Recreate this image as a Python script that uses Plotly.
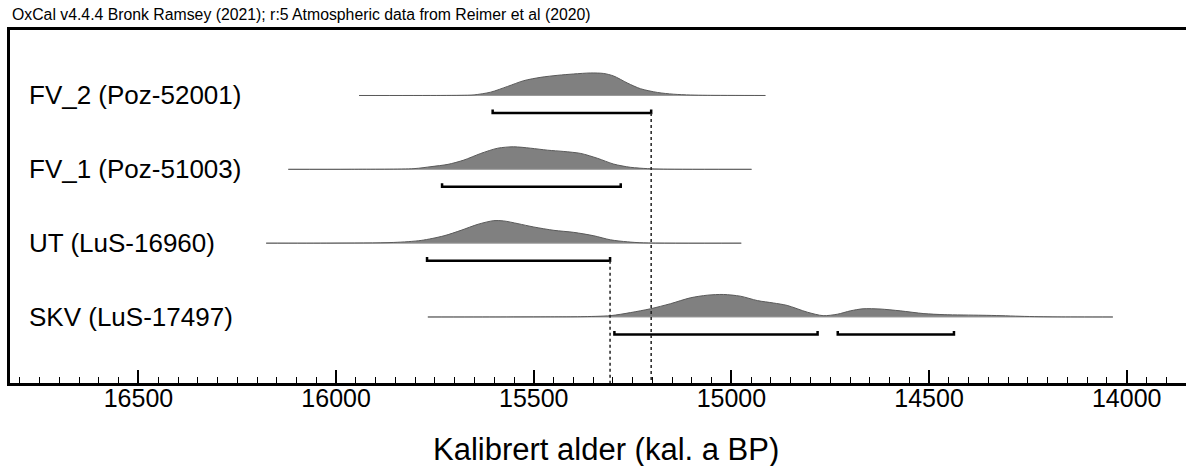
import plotly.graph_objects as go

# ---- data: calibrated age (cal BP) and relative probability per sample ----
labels = ["FV_2 (Poz-52001)", "FV_1 (Poz-51003)", "UT (LuS-16960)", "SKV (LuS-17497)"]

fv2_age = [15942, 15735, 15684, 15651, 15609, 15566, 15525, 15482, 15439, 15399,
           15356, 15323, 15298, 15263, 15230, 15187, 15147, 15104, 15061, 14914]
fv2_prob = [0, 0.05, 0.2, 0.6, 3.3, 9, 14.7, 18, 20, 21.3,
            22.3, 21.8, 19.3, 12.3, 6.7, 3, 1.3, 0.5, 0.2, 0]

fv1_age = [16121, 15962, 15803, 15760, 15717, 15677, 15634, 15591, 15551, 15508,
           15465, 15424, 15381, 15338, 15298, 15255, 15212, 15172, 14949]
fv1_prob = [0, 0.05, 0.7, 2.7, 5, 9.3, 16, 21.3, 22.7, 21.3,
            19.3, 18, 16, 11, 5.3, 2, 0.7, 0.2, 0]

ut_age = [16177, 16013, 15854, 15785, 15727, 15684, 15641, 15601, 15576, 15540,
          15500, 15449, 15399, 15348, 15306, 15263, 15222, 14975]
ut_prob = [0, 0.05, 0.7, 2.7, 7.3, 12.7, 18.7, 22.3, 22, 19.3,
           16, 12.7, 10.7, 7.3, 3.3, 1.3, 0.3, 0]

skv_age = [15768, 15583, 15457, 15381, 15306, 15255, 15205, 15154, 15104, 15061,
           15020, 14977, 14934, 14894, 14859, 14808, 14768, 14732, 14699, 14667,
           14624, 14573, 14513, 14462, 14366, 14318, 14270, 14222, 14174, 14035]
skv_prob = [0, 0.05, 0.15, 0.3, 1.3, 4.3, 8, 13, 18.7, 21.3,
            22, 20.3, 16, 13.7, 11.3, 4.7, 1.3, 2.7, 6, 8,
            7.8, 6, 3.3, 2.3, 1.7, 1.3, 0.7, 0.3, 0.1, 0]

# 95.4 % highest posterior density ranges (cal BP)
fv2_range = [(15604, 15203)]
fv1_range = [(15732, 15280)]
ut_range = [(15770, 15307)]
skv_range = [(15296, 14782), (14731, 14437)]

x_ticks = [16500, 16000, 15500, 15000, 14500, 14000]

# ---- geometry (y in row units; row 0 at the bottom) ----
PEAK_H = 0.305
BRACKET_OFF = 0.237
BRACKET_TICK = 0.048
Y_MIN, Y_MAX = -0.894, 3.887
FONT = "Liberation Sans, Arial, sans-serif"

rows = [
    (labels[0], 3, fv2_age, fv2_prob, fv2_range),
    (labels[1], 2, fv1_age, fv1_prob, fv1_range),
    (labels[2], 1, ut_age, ut_prob, ut_range),
    (labels[3], 0, skv_age, skv_prob, skv_range),
]

fig = go.Figure()

for name, y0, age, prob, rng in rows:
    peak = max(prob)
    # baseline of the distribution
    fig.add_trace(go.Scatter(
        x=[age[0], age[-1]], y=[y0, y0], mode="lines",
        line=dict(color="#9a9a9a", width=1), hoverinfo="skip", showlegend=False))
    # filled probability curve
    fig.add_trace(go.Scatter(
        x=age, y=[y0 + PEAK_H * p / peak for p in prob], mode="lines",
        line=dict(color="#5a5a5a", width=1, shape="spline", smoothing=0.8),
        fill="tonexty", fillcolor="#808080", name=name, showlegend=False))
    # range brackets
    for a, b in rng:
        yb = y0 - BRACKET_OFF
        fig.add_trace(go.Scatter(
            x=[a, a, b, b], y=[yb + BRACKET_TICK, yb, yb, yb + BRACKET_TICK],
            mode="lines", line=dict(color="black", width=2.5),
            hoverinfo="skip", showlegend=False))
    fig.add_annotation(
        x=0.0145, xref="paper", y=y0, yref="y", text=name, showarrow=False,
        xanchor="left", yanchor="middle", font=dict(family=FONT, size=26, color="black"))

# dotted guides down from the FV_2 and UT range ends
for y0, rng in [(3, fv2_range), (1, ut_range)]:
    xe = rng[-1][1]
    fig.add_trace(go.Scatter(
        x=[xe, xe], y=[y0 - BRACKET_OFF, Y_MIN], mode="lines",
        line=dict(color="#222222", width=1.5, dash="dot"),
        hoverinfo="skip", showlegend=False))

fig.add_annotation(
    x=0, xref="paper", y=1.045, yref="paper", xanchor="left", yanchor="middle",
    text="OxCal v4.4.4 Bronk Ramsey (2021); r:5 Atmospheric data from Reimer et al (2020)",
    showarrow=False, font=dict(family=FONT, size=15.8, color="black"))

fig.add_annotation(
    x=0.507, xref="paper", y=-0.187, yref="paper", xanchor="center", yanchor="middle",
    text="Kalibrert alder (kal. a BP)", showarrow=False,
    font=dict(family=FONT, size=31, color="black"))

fig.update_layout(
    width=1186, height=466,
    margin=dict(l=10, r=0, t=30, b=83),
    paper_bgcolor="white", plot_bgcolor="white",
    font=dict(family=FONT, color="black"),
    xaxis=dict(
        range=[16825, 13850], tickvals=x_ticks, ticktext=[str(v) for v in x_ticks],
        ticks="inside", ticklen=13, tickwidth=2, tickcolor="black",
        ticklabelstandoff=-9,
        showline=True, linewidth=2.5, linecolor="black", mirror=True,
        showgrid=False, zeroline=False,
        tickfont=dict(family=FONT, size=25, color="black"),
        minor=dict(dtick=50, tick0=0, ticks="inside", ticklen=6, tickwidth=1.3,
                   tickcolor="black", showgrid=False),
    ),
    yaxis=dict(
        range=[Y_MIN, Y_MAX], showticklabels=False, ticks="",
        showline=True, linewidth=2.5, linecolor="black",
        showgrid=False, zeroline=False,
    ),
)

fig.write_html("out.html")
